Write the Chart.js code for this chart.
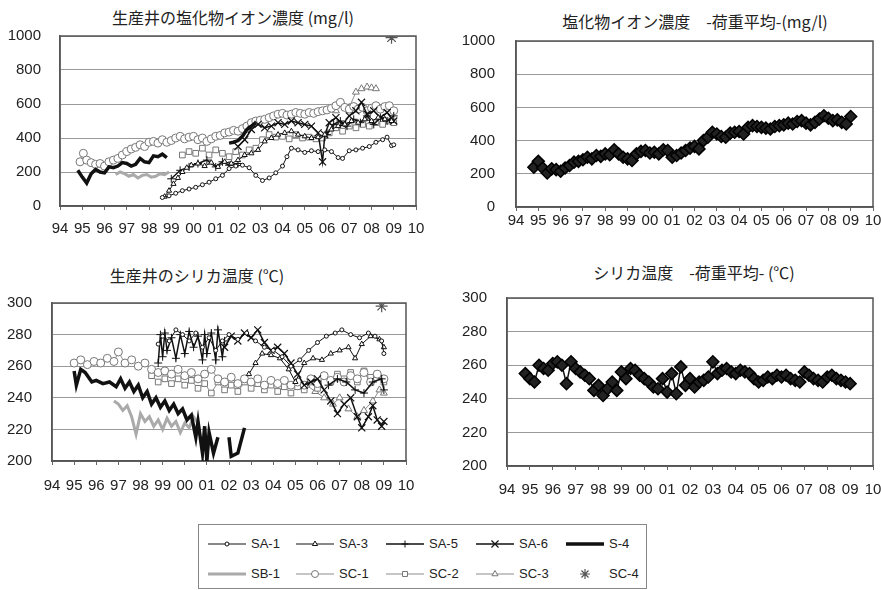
<!DOCTYPE html>
<html>
<head>
<meta charset="utf-8">
<script src="https://cdn.jsdelivr.net/npm/chart.js@4/dist/chart.umd.min.js"></script>
<style>
  body { margin: 0; background: #fff; width: 881px; height: 590px; position: relative; overflow: hidden; }
  .ttl { position: absolute; font-family: "Noto Sans CJK JP", sans-serif; font-size: 16px; line-height: 18px; color: #222; white-space: nowrap; transform: translateX(-50%); }
  .cv { position: absolute; }
  #legend { position: absolute; left: 198px; top: 524px; width: 449px; height: 65px; border: 1px solid #888; box-sizing: border-box; }
  .lg { position: absolute; font-family: "Liberation Sans", sans-serif; font-size: 13px; line-height: 14px; color: #222; }
</style>
</head>
<body>
<div class="ttl" style="left:233px;top:8px">生産井の塩化物イオン濃度 (mg/l)</div>
<div class="ttl" style="left:695px;top:12px">塩化物イオン濃度　-荷重平均-(mg/l)</div>
<div class="ttl" style="left:197px;top:266px">生産井のシリカ温度 (℃)</div>
<div class="ttl" style="left:694px;top:263px">シリカ温度　-荷重平均- (℃)</div>

<canvas id="clWells" class="cv" width="436" height="214" style="left:0;top:26px"></canvas>
<canvas id="clAvg" class="cv" width="441" height="214" style="left:440px;top:26px"></canvas>
<canvas id="siWells" class="cv" width="436" height="210" style="left:0;top:290px"></canvas>
<canvas id="siAvg" class="cv" width="441" height="215" style="left:440px;top:285px"></canvas>

<div id="legend"></div>

<script>
// 系列名（凡例の順）
const seriesNames = ['SA-1', 'SA-3', 'SA-5', 'SA-6', 'S-4', 'SB-1', 'SC-1', 'SC-2', 'SC-3', 'SC-4'];

// x軸: 年 (94〜10)
const yearMin = 1994;
const yearMax = 2010;

// ---- 塩化物イオン濃度 (mg/l)  [年, 値] ----
const clSA1 = [[1998.6,50],[1998.9,60],[1999.2,75],[1999.5,90],[1999.8,100],[2000.1,110],[2000.4,125],[2000.7,140],[2001.0,160],[2001.3,180],[2001.6,220],[2001.9,235],[2002.2,240],[2002.5,225],[2002.8,180],[2003.1,150],[2003.4,165],[2003.7,195],[2004.0,235],[2004.2,290],[2004.4,340],[2004.7,330],[2005.0,315],[2005.3,325],[2005.6,320],[2005.9,330],[2006.2,320],[2006.5,285],[2006.7,280],[2007.0,325],[2007.3,330],[2007.6,340],[2007.9,350],[2008.2,375],[2008.5,390],[2008.7,405],[2008.9,355],[2009.0,360]];
const clSA3 = [[1998.7,55],[1998.9,90],[1999.1,130],[1999.3,165],[1999.5,200],[1999.7,225],[1999.9,240],[2000.2,250],[2000.5,235],[2000.8,255],[2001.1,230],[2001.4,260],[2001.7,250],[2002.0,270],[2002.3,300],[2002.6,310],[2002.9,330],[2003.2,380],[2003.5,400],[2003.8,420],[2004.1,430],[2004.4,440],[2004.7,420],[2005.0,410],[2005.3,400],[2005.6,405],[2005.9,420],[2006.2,450],[2006.5,470],[2006.8,480],[2007.1,500],[2007.4,490],[2007.7,510],[2008.0,500],[2008.3,520],[2008.6,510],[2008.9,500]];
const clSA5 = [[1999.0,160],[1999.4,210],[1999.8,230],[2000.2,250],[2000.6,270],[2001.0,230],[2001.3,260],[2001.6,240],[2002.0,250],[2004.0,null],[2006.0,420],[2006.3,480],[2006.6,500],[2006.9,470],[2007.2,510],[2007.5,490],[2007.8,530],[2008.1,480],[2008.4,520],[2008.7,500],[2009.0,530]];
const clSA6 = [[2002.0,350],[2002.3,390],[2002.6,450],[2002.9,480],[2003.2,460],[2003.5,470],[2003.8,490],[2004.1,480],[2004.4,500],[2004.7,490],[2005.0,480],[2005.3,470],[2005.6,430],[2005.8,260],[2005.9,420],[2006.1,490],[2006.4,520],[2006.7,480],[2007.0,530],[2007.3,560],[2007.55,610],[2007.8,540],[2008.1,560],[2008.4,520],[2008.7,550],[2009.0,500]];
const clS4 = [[1994.8,210],[1995.0,170],[1995.2,135],[1995.4,190],[1995.6,215],[1995.8,200],[1996.0,195],[1996.2,230],[1996.4,225],[1996.6,235],[1996.8,255],[1997.0,250],[1997.2,235],[1997.4,245],[1997.6,280],[1997.8,260],[1998.0,255],[1998.2,295],[1998.4,290],[1998.6,305],[1998.8,285],[2000.0,null],[2001.6,370],[2001.8,375],[2002.0,385],[2002.2,410],[2002.4,450],[2002.6,470],[2002.8,490]];
const clSB1 = [[1996.5,185],[1996.7,200],[1996.9,190],[1997.1,175],[1997.3,185],[1997.5,165],[1997.7,180],[1997.9,185],[1998.1,170],[1998.3,175],[1998.5,190],[1998.7,185],[1998.9,200]];
const clSC1 = [[1994.9,260],[1995.05,310],[1995.2,270],[1995.4,255],[1995.6,245],[1995.8,250],[1996.0,235],[1996.2,260],[1996.4,270],[1996.6,280],[1996.8,300],[1997.0,320],[1997.2,335],[1997.4,345],[1997.6,360],[1997.8,350],[1998.0,375],[1998.2,380],[1998.4,370],[1998.6,390],[1998.8,375],[1999.0,385],[1999.2,400],[1999.4,410],[1999.6,395],[1999.8,405],[2000.0,410],[2000.2,390],[2000.4,400],[2000.6,380],[2000.8,395],[2001.0,410],[2001.2,415],[2001.4,430],[2001.6,435],[2001.8,445],[2002.0,440],[2002.2,455],[2002.4,470],[2002.6,490],[2002.8,500],[2003.0,505],[2003.2,510],[2003.4,520],[2003.6,530],[2003.8,540],[2004.0,545],[2004.2,535],[2004.4,540],[2004.6,550],[2004.8,545],[2005.0,540],[2005.2,550],[2005.4,545],[2005.6,555],[2005.8,560],[2006.0,565],[2006.2,575],[2006.4,590],[2006.6,610],[2006.8,580],[2007.0,570],[2007.2,585],[2007.4,570],[2007.6,580],[2007.8,560],[2008.0,575],[2008.2,590],[2008.4,570],[2008.6,585],[2008.8,590],[2009.0,560]];
const clSC2 = [[1999.5,300],[1999.8,320],[2000.1,310],[2000.4,340],[2000.7,300],[2001.0,330],[2001.3,310],[2001.6,290],[2001.9,320],[2002.2,300],[2002.5,330],[2002.8,340],[2003.1,390],[2003.4,420],[2003.7,405],[2004.0,410],[2004.3,395],[2004.6,420],[2004.9,400],[2005.2,405],[2005.5,395],[2005.8,400],[2006.1,430],[2006.4,460],[2006.7,440],[2007.0,470],[2007.3,460],[2007.6,480],[2007.9,470],[2008.2,490],[2008.5,480],[2008.8,500],[2009.0,490]];
const clSC3 = [[2006.4,560],[2006.7,600],[2007.0,580],[2007.3,670],[2007.55,690],[2007.8,700],[2008.0,695],[2008.2,690]];
const clSC4 = [[2008.9,990]];

// ---- シリカ温度 (℃)  [年, 値] ----
const siSA1 = [[1998.8,274],[1999.0,279],[1999.3,276],[1999.6,283],[1999.9,280],[2000.2,276],[2000.5,281],[2000.8,272],[2001.1,278],[2001.4,270],[2001.7,276],[2002.0,280],[2002.4,277],[2002.8,281],[2003.2,276],[2003.6,272],[2004.0,270],[2004.4,266],[2004.8,260],[2005.2,264],[2005.6,270],[2006.0,275],[2006.4,279],[2006.8,281],[2007.1,283],[2007.5,280],[2007.9,278],[2008.3,281],[2008.6,279],[2008.9,276],[2009.0,268]];
const siSA3 = [[2002.9,255],[2003.2,262],[2003.5,268],[2003.9,267],[2004.3,265],[2004.7,258],[2005.0,250],[2005.4,262],[2005.8,265],[2006.2,264],[2006.6,268],[2007.0,270],[2007.4,272],[2007.7,265],[2008.0,274],[2008.4,279],[2008.8,277],[2009.0,272]];
const siSA5 = [[1998.8,262],[1998.9,280],[1999.0,266],[1999.1,281],[1999.2,270],[1999.4,278],[1999.6,265],[1999.8,280],[2000.0,268],[2000.2,282],[2000.4,272],[2000.6,279],[2000.8,264],[2000.9,280],[2001.0,268],[2001.2,281],[2001.4,264],[2001.5,283],[2001.7,266],[2001.8,276],[2004.0,null],[2006.5,248],[2006.9,252],[2007.3,250],[2007.7,245],[2008.1,243],[2008.5,250],[2008.9,252],[2009.0,245]];
const siSA6 = [[2001.8,272],[2002.1,279],[2002.4,276],[2002.7,281],[2003.0,278],[2003.3,283],[2003.6,275],[2003.9,270],[2004.2,272],[2004.5,268],[2004.8,262],[2005.1,255],[2005.4,248],[2005.7,250],[2006.0,252],[2006.3,245],[2006.6,238],[2006.9,230],[2007.2,236],[2007.5,240],[2007.8,228],[2008.0,221],[2008.3,228],[2008.5,235],[2008.7,226],[2008.9,222],[2009.0,225]];
const siS4 = [[1995.0,257],[1995.1,248],[1995.3,258],[1995.5,256],[1995.8,250],[1996.0,251],[1996.3,249],[1996.6,250],[1996.9,247],[1997.1,252],[1997.3,246],[1997.5,250],[1997.7,244],[1997.9,248],[1998.1,240],[1998.3,244],[1998.5,236],[1998.7,240],[1998.9,234],[1999.1,238],[1999.3,232],[1999.5,236],[1999.7,230],[1999.9,233],[2000.1,226],[2000.3,229],[2000.5,215],[2000.6,225],[2000.8,205],[2000.9,222],[2001.0,200],[2001.1,218],[2001.3,205],[2001.5,215],[2001.7,null],[2002.0,215],[2002.1,203],[2002.4,205],[2002.7,221]];
const siSB1 = [[1995.0,240],[1996.0,null],[1996.8,238],[1997.0,236],[1997.2,232],[1997.4,235],[1997.6,228],[1997.8,217],[1998.0,230],[1998.2,225],[1998.4,228],[1998.6,222],[1998.8,226],[1999.0,220],[1999.2,227],[1999.4,222],[1999.6,225],[1999.8,218],[2000.0,224],[2000.2,221],[2000.4,228],[2000.6,224]];
const siSC1 = [[1995.0,262],[1995.3,264],[1995.6,261],[1995.9,263],[1996.2,262],[1996.5,265],[1996.8,263],[1997.0,269],[1997.3,262],[1997.6,264],[1997.9,260],[1998.2,262],[1998.5,258],[1998.8,256],[1999.1,257],[1999.4,255],[1999.7,258],[2000.0,254],[2000.3,256],[2000.6,252],[2000.9,255],[2001.2,258],[2001.5,252],[2001.8,250],[2002.1,253],[2002.4,249],[2002.7,252],[2003.0,250],[2003.3,252],[2003.6,248],[2003.9,251],[2004.2,249],[2004.5,251],[2004.8,248],[2005.1,250],[2005.4,248],[2005.7,252],[2006.0,249],[2006.3,254],[2006.6,251],[2006.9,253],[2007.2,250],[2007.5,254],[2007.8,252],[2008.1,256],[2008.4,250],[2008.7,255],[2009.0,252]];
const siSC2 = [[1998.5,254],[1998.8,250],[1999.1,252],[1999.4,249],[1999.7,252],[2000.0,248],[2000.3,251],[2000.6,246],[2000.9,249],[2001.2,243],[2001.5,250],[2001.8,245],[2002.1,248],[2002.4,244],[2002.7,250],[2003.0,246],[2003.3,249],[2003.6,245],[2003.9,248],[2004.2,244],[2004.5,247],[2004.8,243],[2005.1,247],[2005.4,245],[2005.7,250],[2006.0,246],[2006.3,254],[2006.6,250],[2006.9,255],[2007.2,252],[2007.5,256],[2007.8,250],[2008.1,257],[2008.4,253],[2008.7,255],[2009.0,250]];
const siSC3 = [[2005.5,248],[2005.9,244],[2006.3,240],[2006.7,236],[2007.0,240],[2007.4,233],[2007.8,228],[2008.1,232],[2008.5,238],[2008.8,245],[2009.0,243]];
const siSC4 = [[2008.9,298]];

// ---- 荷重平均 (1994.8 から 0.2 年ごと) ----
const avgStart = 1994.8;
const avgStep = 0.2;
const clAvgValues = [240,275,235,205,230,225,215,235,250,270,275,285,300,290,310,305,320,315,345,320,300,290,280,320,335,340,325,330,320,345,340,300,310,325,340,355,365,350,400,420,450,440,425,420,445,450,455,440,480,490,485,480,475,470,485,490,495,505,500,515,520,505,495,510,530,550,535,520,525,510,500,545];
const siAvgValues = [255,252,250,260,258,257,261,262,260,249,262,258,256,254,252,245,248,242,246,250,245,256,252,258,257,254,252,250,247,246,252,244,255,243,259,248,252,247,250,251,253,262,255,257,258,256,255,257,256,255,252,250,251,253,252,254,253,254,252,251,250,256,254,252,251,250,253,254,252,251,250,249];

// 系列の見た目
const black = '#111';
const gray = '#8c8c8c';
const seriesStyle = {
  'SA-1': { borderColor: black, borderWidth: 1, pointStyle: 'circle', pointRadius: 2, pointBackgroundColor: '#fff', pointBorderColor: black, pointBorderWidth: 1 },
  'SA-3': { borderColor: black, borderWidth: 1, pointStyle: 'triangle', pointRadius: 3, pointBackgroundColor: '#fff', pointBorderColor: black, pointBorderWidth: 1 },
  'SA-5': { borderColor: black, borderWidth: 1.5, pointStyle: 'cross', pointRadius: 4, pointBorderColor: black, pointBorderWidth: 1 },
  'SA-6': { borderColor: black, borderWidth: 1.5, pointStyle: 'crossRot', pointRadius: 5, pointBorderColor: black, pointBorderWidth: 1.2 },
  'S-4':  { borderColor: black, borderWidth: 3.5, pointRadius: 0 },
  'SB-1': { borderColor: '#aaa', borderWidth: 3, pointRadius: 0 },
  'SC-1': { borderColor: gray, borderWidth: 1, pointStyle: 'circle', pointRadius: 4, pointBackgroundColor: '#fff', pointBorderColor: '#777', pointBorderWidth: 1 },
  'SC-2': { borderColor: gray, borderWidth: 1, pointStyle: 'rect', pointRadius: 4, pointBackgroundColor: '#fff', pointBorderColor: '#777', pointBorderWidth: 1 },
  'SC-3': { borderColor: gray, borderWidth: 1, pointStyle: 'triangle', pointRadius: 4, pointBackgroundColor: '#fff', pointBorderColor: '#777', pointBorderWidth: 1 },
  'SC-4': { borderColor: '#555', borderWidth: 1.2, showLine: false, pointStyle: 'star', pointRadius: 6, pointBorderColor: '#555', pointBorderWidth: 1.2 }
};

// 凡例の記号サイズ
const legendRadius = { 'SA-6': 5, 'SC-4': 5 };

function makeDataset(name, points) {
  return Object.assign({ label: name, data: points, tension: 0, spanGaps: false }, seriesStyle[name]);
}

function avgPoints(values) {
  return values.map((v, i) => [avgStart + i * avgStep, v]);
}

function avgDataset(values) {
  return {
    label: '荷重平均', data: avgPoints(values), tension: 0,
    borderColor: black, borderWidth: 1.5, pointStyle: 'rectRot', pointRadius: 6,
    pointBackgroundColor: '#222', pointBorderColor: '#000', pointBorderWidth: 1.5
  };
}

// 枠線
const frame = {
  id: 'frame',
  beforeDatasetsDraw(chart) {
    const { ctx, chartArea: a } = chart;
    ctx.save();
    ctx.strokeStyle = '#555';
    ctx.lineWidth = 1.5;
    ctx.strokeRect(a.left, a.top, a.right - a.left, a.bottom - a.top);
    ctx.restore();
  }
};

const tickFont = { family: '"Liberation Sans", Arial, sans-serif', size: 15 };

function makeChart(id, datasets, yMin, yMax, yStep, d) {
  return new Chart(document.getElementById(id), {
    type: 'line',
    data: { datasets: datasets },
    options: {
      responsive: false,
      animation: false,
      layout: { padding: { top: d.top, right: d.right, left: 0, bottom: 0 } },
      plugins: { legend: { display: false }, tooltip: { enabled: false } },
      scales: {
        x: {
          type: 'linear', min: yearMin, max: yearMax,
          ticks: {
            stepSize: 1, autoSkip: false, maxRotation: 0, padding: d.xPad,
            color: '#222', font: tickFont,
            callback: v => String(Math.round(v) % 100).padStart(2, '0')
          },
          grid: { drawOnChartArea: false, drawTicks: true, tickLength: 4, color: '#666' },
          border: { color: '#555', width: 1.5 },
          afterFit: s => { s.height = d.xh; s.paddingLeft = 0; s.paddingRight = 0; }
        },
        y: {
          min: yMin, max: yMax,
          ticks: { stepSize: yStep, padding: d.yPad, color: '#222', font: tickFont, callback: v => String(v) },
          grid: { color: '#999', lineWidth: 1, drawTicks: false },
          border: { color: '#555', width: 1.5 },
          afterFit: s => { s.width = d.yw; s.paddingTop = 0; s.paddingBottom = 0; }
        }
      }
    },
    plugins: [frame]
  });
}

const clSeries = [clSA1, clSA3, clSA5, clSA6, clS4, clSB1, clSC1, clSC2, clSC3, clSC4];
const siSeries = [siSA1, siSA3, siSA5, siSA6, siS4, siSB1, siSC1, siSC2, siSC3, siSC4];

makeChart('clWells', seriesNames.map((n, i) => makeDataset(n, clSeries[i])), 0, 1000, 200,
  { top: 10, right: 20, yw: 60, xh: 34, xPad: 10, yPad: 19 });
makeChart('clAvg', [avgDataset(clAvgValues)], 0, 1000, 200,
  { top: 15, right: 8, yw: 76, xh: 33, xPad: 1, yPad: 21 });
makeChart('siWells', seriesNames.map((n, i) => makeDataset(n, siSeries[i])), 200, 300, 20,
  { top: 13, right: 30, yw: 52, xh: 39, xPad: 12, yPad: 20 });
makeChart('siAvg', [avgDataset(siAvgValues)], 200, 300, 20,
  { top: 13, right: 8, yw: 67, xh: 34, xPad: 11, yPad: 20 });

// 凡例
const legendCols = [207, 295, 385, 475, 565];
const legendRows = [543, 573];
const legend = document.getElementById('legend');
seriesNames.forEach((name, i) => {
  const st = seriesStyle[name];
  const lx = legendCols[i % 5] - 198;
  const ly = legendRows[Math.floor(i / 5)] - 524;
  const c = document.createElement('canvas');
  c.width = 40; c.height = 14;
  c.style.position = 'absolute';
  c.style.left = lx + 'px';
  c.style.top = (ly - 7) + 'px';
  legend.appendChild(c);
  const ctx = c.getContext('2d');
  if (st.showLine !== false) {
    ctx.strokeStyle = st.borderColor;
    ctx.lineWidth = st.borderWidth;
    ctx.beginPath(); ctx.moveTo(0, 7); ctx.lineTo(38, 7); ctx.stroke();
  }
  if (st.pointRadius) {
    ctx.fillStyle = st.pointBackgroundColor || '#fff';
    ctx.strokeStyle = st.pointBorderColor || st.borderColor;
    ctx.lineWidth = st.pointBorderWidth || 1;
    const r = legendRadius[name] || Math.min(st.pointRadius, 3.5);
    Chart.helpers.drawPoint(ctx, { pointStyle: st.pointStyle, radius: r, rotation: 0, borderWidth: ctx.lineWidth }, 19, 7);
  }
  const t = document.createElement('div');
  t.className = 'lg';
  t.textContent = name;
  t.style.left = (lx + 43) + 'px';
  t.style.top = (ly - 7) + 'px';
  legend.appendChild(t);
});
</script>
</body>
</html>
